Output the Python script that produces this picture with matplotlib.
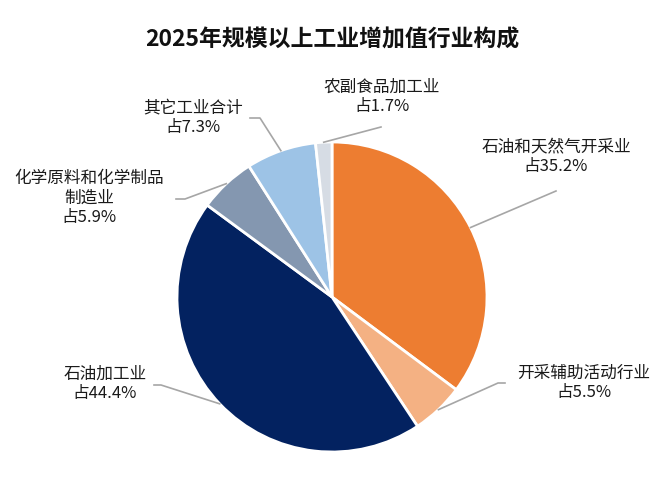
import numpy as np
import matplotlib.pyplot as plt

plt.rcParams['font.family'] = ['Noto Sans CJK SC', 'DejaVu Sans']

title = "2025年规模以上工业增加值行业构成"
industries = ["石油和天然气开采业", "开采辅助活动行业", "石油加工业",
              "化学原料和化学制品\n制造业", "其它工业合计", "农副食品加工业"]
shares = [35.2, 5.5, 44.4, 5.9, 7.3, 1.7]
colors = ["#ED7D31", "#F4B183", "#032260", "#8497B0", "#9DC3E6", "#D6DCE4"]

# label layout in pixel coords (x, y from top): text centre, leader elbow, leader end
text_pos = [(556, 157), (584, 383), (105, 384), (89, 198), (193, 118), (382, 97)]
elbows = [(556, 191), (498, 383), (161, 385), (185, 199), (260, 118), (381, 127)]
ends = [(556, 191), (505, 383), (154, 385), (176, 199), (250, 118), (381, 127)]

W, H = 664, 493
cx, cy, r = 332, 297, 155

fig = plt.figure(figsize=(W / 100, H / 100), dpi=100)
ax = fig.add_axes([0, 0, 1, 1])

ax.pie(shares, colors=colors, startangle=90, counterclock=False,
       center=(cx, H - cy), radius=r,
       wedgeprops=dict(edgecolor="white", linewidth=2))
ax.set_aspect("auto")
ax.set_xlim(0, W)
ax.set_ylim(0, H)
ax.axis("off")

cum = np.cumsum([0] + shares[:-1])
for i, name in enumerate(industries):
    mid = (cum[i] + shares[i] / 2) / 100 * 2 * np.pi
    sx = cx + r * np.sin(mid)
    sy = cy - r * np.cos(mid)
    xs = [sx, elbows[i][0], ends[i][0]]
    ys = [H - sy, H - elbows[i][1], H - ends[i][1]]
    ax.plot(xs, ys, color="#A6A6A6", lw=1.2)
    tx, ty = text_pos[i]
    ax.text(tx, H - ty, f"{name}\n占{shares[i]}%", ha="center", va="center",
            fontsize=12, color="#1a1a1a", linespacing=1.2)

ax.text(W / 2, H - 40, title, ha="center", va="center",
        fontsize=16.5, fontweight="bold", color="#111111")

fig.savefig("out.png", dpi=100)
